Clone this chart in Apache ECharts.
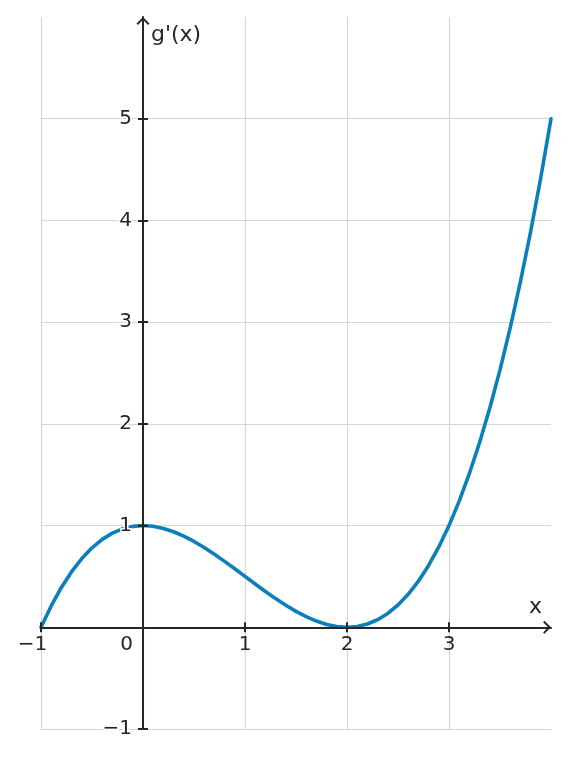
<!DOCTYPE html>
<html>
<head>
<meta charset="utf-8">
<script src="https://cdn.jsdelivr.net/npm/echarts@6/dist/echarts.min.js"></script>
<style>
html,body{margin:0;padding:0;background:#fff;}
#chart{width:568px;height:758px;}
</style>
</head>
<body>
<div id="chart"></div>
<script>
// Curve samples
const xValues = [-1.0,-0.9,-0.8,-0.7,-0.6,-0.5,-0.4,-0.3,-0.2,-0.1,0.0,0.1,0.2,0.3,0.4,0.5,0.6,0.7,0.8,0.9,1.0,1.1,1.2,1.3,1.4,1.5,1.6,1.7,1.8,1.9,2.0,2.1,2.2,2.3,2.4,2.5,2.6,2.7,2.8,2.9,3.0,3.1,3.2,3.3,3.4,3.5,3.6,3.7,3.8,3.9,4.0];
const yValues = [0,0.210,0.392,0.547,0.676,0.781,0.864,0.926,0.968,0.992,1.0,0.993,0.972,0.939,0.896,0.844,0.784,0.718,0.648,0.575,0.5,0.425,0.352,0.282,0.216,0.156,0.104,0.061,0.028,0.007,0,0.008,0.032,0.074,0.136,0.219,0.324,0.453,0.608,0.790,1.0,1.240,1.512,1.817,2.156,2.531,2.944,3.396,3.888,4.422,5.0];
const xTicks = [-1, 0, 1, 2, 3];
const yTicks = [-1, 1, 2, 3, 4, 5];
const yTickMarks = [-1, 1, 2, 3, 4, 5];
const xName = 'x';
const yName = "g'(x)";

const AX = '#262626';
const GRIDC = '#d6d6d6';
const FONT = 'DejaVu Sans';
const arrowPath = 'path://M6.5,0 L13,6.5 L11.6,7.9 L6.5,2.8 L1.4,7.9 L0,6.5 Z';
const CLEAR = 'rgba(0,0,0,0)';

const fmt = v => (v < 0 ? '\u2212' + Math.abs(v) : String(v));
const xFmt = v => v === -1 ? '{m|' + fmt(v) + '}' : (v === 0 ? '{z|0}' : fmt(v));

const chart = echarts.init(document.getElementById('chart'), null, {renderer: 'canvas'});
const common = {type: 'value', min: -1, interval: 1};
const tokenStyle = {fontSize: 20, fontFamily: FONT, color: AX};

function buildOption(xOff, yOff) {
  return {
    animation: false,
    backgroundColor: '#fff',
    grid: {left: 41, right: 17, top: 17, bottom: 29, containLabel: false, outerBoundsMode: 'none'},
    xAxis: [
      Object.assign({}, common, {max: 4, z: 0, position: 'top',
        axisLine: {show: false}, axisTick: {show: false}, axisLabel: {show: false},
        splitLine: {show: true, lineStyle: {color: [GRIDC, GRIDC, GRIDC, GRIDC, GRIDC, CLEAR], width: 1.2}}}),
      Object.assign({}, common, {max: 4, z: 4, position: 'bottom', offset: xOff,
        name: xName, nameLocation: 'end', nameGap: 0,
        nameTextStyle: {fontSize: 22, fontFamily: FONT, color: AX, align: 'right', verticalAlign: 'bottom', padding: [0, 9, 9, 0]},
        axisLine: {show: true, onZero: false, symbol: ['none', arrowPath], symbolSize: [13, 8], symbolOffset: [0, -4],
          lineStyle: {color: AX, width: 2}},
        axisTick: {show: true, customValues: xTicks, length: 5, lineStyle: {color: AX, width: 2}},
        axisLabel: {show: true, customValues: xTicks, formatter: xFmt, margin: 8, fontSize: 20, fontFamily: FONT, color: AX,
          rich: {m: Object.assign({padding: [0, 17, 0, 0]}, tokenStyle), z: Object.assign({padding: [0, 33, 0, 0]}, tokenStyle)}},
        splitLine: {show: false}}),
      Object.assign({}, common, {max: 4, z: 4, position: 'bottom', offset: xOff,
        axisLine: {show: true, onZero: false, lineStyle: {color: CLEAR, width: 1}},
        axisTick: {show: true, inside: true, customValues: xTicks, length: 5, lineStyle: {color: AX, width: 2}},
        axisLabel: {show: false}, splitLine: {show: false}})
    ],
    yAxis: [
      Object.assign({}, common, {max: 6, z: 0, position: 'right',
        axisLine: {show: false}, axisTick: {show: false}, axisLabel: {show: false},
        splitLine: {show: true, lineStyle: {color: [GRIDC, GRIDC, GRIDC, GRIDC, GRIDC, GRIDC, GRIDC, CLEAR], width: 1.2}}}),
      Object.assign({}, common, {max: 6, z: 4, position: 'left', offset: yOff,
        name: yName, nameLocation: 'end', nameGap: 0,
        nameTextStyle: {fontSize: 22, fontFamily: FONT, color: AX, align: 'left', verticalAlign: 'top', padding: [7, 0, 0, 8]},
        axisLine: {show: true, onZero: false, symbol: ['none', arrowPath], symbolSize: [13, 8], symbolOffset: [0, -4],
          lineStyle: {color: AX, width: 2}},
        axisTick: {show: true, customValues: yTickMarks, length: 5, lineStyle: {color: AX, width: 2}},
        axisLabel: {show: true, customValues: yTicks, formatter: fmt, margin: 11, fontSize: 20, fontFamily: FONT, color: AX,
          textBorderColor: '#fff', textBorderWidth: 3},
        splitLine: {show: false}}),
      Object.assign({}, common, {max: 6, z: 4, position: 'left', offset: yOff,
        axisLine: {show: true, onZero: false, lineStyle: {color: CLEAR, width: 1}},
        axisTick: {show: true, inside: true, customValues: yTickMarks, length: 5, lineStyle: {color: AX, width: 2}},
        axisLabel: {show: false}, splitLine: {show: false}})
    ],
    series: [{
      type: 'line',
      xAxisIndex: 0, yAxisIndex: 0,
      data: xValues.map((x, i) => [x, yValues[i]]),
      showSymbol: false,
      smooth: false,
      z: 2,
      lineStyle: {color: '#0a7fba', width: 3.6, cap: 'round', join: 'round'},
      emphasis: {disabled: true}
    }]
  };
}

chart.setOption(buildOption(0, 0));
// place the axis lines at the data origin using the library's own scales
const origin = chart.convertToPixel({xAxisIndex: 0, yAxisIndex: 0}, [0, 0]);
const corner = chart.convertToPixel({xAxisIndex: 0, yAxisIndex: 0}, [-1, -1]);
chart.setOption(buildOption(origin[1] - corner[1], corner[0] - origin[0]), true);
</script>
</body>
</html>
